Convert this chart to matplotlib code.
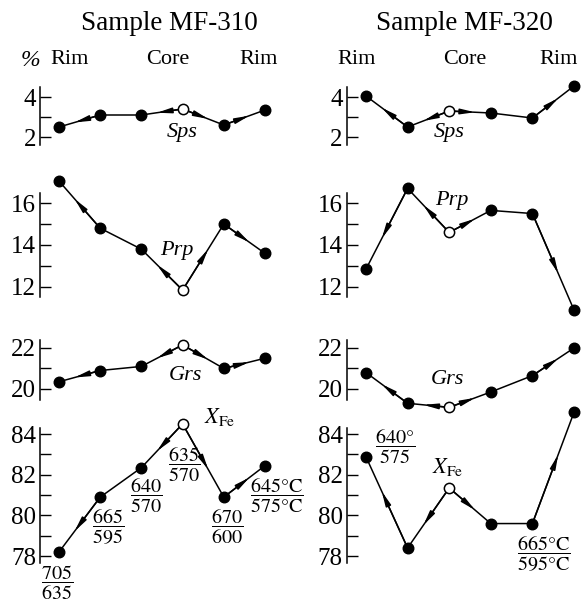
import matplotlib
matplotlib.use("Agg")
import matplotlib.pyplot as plt

plt.rcParams['font.family'] = ['Liberation Serif', 'DejaVu Serif']
plt.rcParams['mathtext.fontset'] = 'stix'

# profile positions rim -> core -> rim
pos = [0, 1, 2, 3, 4, 5]

# Sample MF-310 (core = index 3)
mf310_sps = [2.5, 3.1, 3.1, 3.4, 2.6, 3.35]
mf310_prp = [17.05, 14.8, 13.8, 11.85, 15.0, 13.6]
mf310_grs = [20.35, 20.9, 21.1, 22.15, 21.0, 21.5]
mf310_xfe = [78.2, 80.9, 82.35, 84.5, 80.9, 82.45]
mf310_core = 3
mf310_arrows = [(1, 0), (3, 2), (3, 4), (4, 5)]
mf310_temps = [r'$\dfrac{705}{635}$', r'$\dfrac{665}{595}$', r'$\dfrac{640}{570}$',
               r'$\dfrac{635}{570}$', r'$\dfrac{670}{600}$',
               r'$\dfrac{645\mathrm{°C}}{575\mathrm{°C}}$']
mf310_temp_off = [(-2, -31), (8, -30), (5, -28), (1, -41), (3, -30), (12, -30)]

# Sample MF-320 (core = index 2)
mf320_sps = [4.05, 2.5, 3.3, 3.2, 2.95, 4.55]
mf320_prp = [12.85, 16.7, 14.6, 15.65, 15.5, 10.9]
mf320_grs = [20.8, 19.3, 19.1, 19.85, 20.65, 22.0]
mf320_xfe = [82.88, 78.4, 81.35, 79.6, 79.6, 85.07]
mf320_core = 2
mf320_arrows = [(1, 0), (2, 1), (2, 3), (4, 5)]
mf320_temps = {0: r'$\dfrac{640\mathrm{°}}{575}$', 4: r'$\dfrac{665\mathrm{°C}}{595\mathrm{°C}}$'}
mf320_temp_off = {0: (29, 10), 4: (11, -31)}

# panel layout: name, top px, bottom px, ylim, major, minor, label pos (col0, col1)
panels = [
    ('Sps', 87, 145, (1.6, 4.5), [2, 4], [3], [(3.0, 2.2), (2.0, 2.2)]),
    ('Prp', 193, 297, (11.52, 16.48), [12, 14, 16], [13, 15], [(2.86, 13.76), (2.07, 16.14)]),
    ('Grs', 340, 400, (19.46, 22.39), [20, 22], [21], [(3.06, 20.68), (1.95, 20.44)]),
    ('XFe', 428, 563, (77.66, 84.3), [78, 80, 82, 84], [79, 81, 83], [None, None]),
]

W, H = 581, 602
fig = plt.figure(figsize=(W / 100, H / 100), dpi=100)

xlim = (-0.46, 5.3)
cols = [
    dict(x0=59, unit=41.2, data=[mf310_sps, mf310_prp, mf310_grs, mf310_xfe],
         core=mf310_core, arrows=mf310_arrows),
    dict(x0=366, unit=41.6, data=[mf320_sps, mf320_prp, mf320_grs, mf320_xfe],
         core=mf320_core, arrows=mf320_arrows),
]


def add_px_axes(left, top, width, height):
    return fig.add_axes([left / W, 1 - (top + height) / H, width / W, height / H])


axes = {}
for ci, col in enumerate(cols):
    left = col['x0'] + xlim[0] * col['unit']
    width = (xlim[1] - xlim[0]) * col['unit']
    for pi, (name, top, bot, ylim, major, minor, lab) in enumerate(panels):
        ax = add_px_axes(left, top, width, bot - top)
        ax.set_xlim(*xlim)
        ax.set_ylim(*ylim)
        for s in ['top', 'right', 'bottom']:
            ax.spines[s].set_visible(False)
        ax.spines['left'].set_linewidth(1.1)
        ax.set_xticks([])
        ax.set_yticks(major)
        ax.set_yticks(minor, minor=True)
        ax.tick_params(which='both', direction='in', length=8, width=1.0,
                       labelsize=18, pad=3)
        ax.patch.set_visible(False)

        vals = col['data'][pi]
        ax.plot(pos, vals, color='black', lw=1.1, clip_on=False, zorder=2)
        for a, b in col['arrows']:
            f = 0.62
            tip = (pos[a] + f * (pos[b] - pos[a]), vals[a] + f * (vals[b] - vals[a]))
            ax.annotate('', xy=tip, xytext=(pos[a], vals[a]),
                        arrowprops=dict(arrowstyle='-|>,head_length=0.85,head_width=0.16',
                                        color='black', lw=1.1, shrinkA=0, shrinkB=0,
                                        mutation_scale=10),
                        annotation_clip=False, zorder=2)
        filled = [i for i in range(len(pos)) if i != col['core']]
        ax.plot([pos[i] for i in filled], [vals[i] for i in filled], 'o',
                color='black', ms=7.6, clip_on=False, zorder=3)
        ax.plot([pos[col['core']]], [vals[col['core']]], 'o', mfc='white',
                mec='black', mew=1.1, ms=7.4, clip_on=False, zorder=4)
        if lab[ci] is not None:
            ax.text(lab[ci][0], lab[ci][1], name, style='italic', fontsize=16,
                    ha='center', va='center')
        axes[(ci, pi)] = ax

# XFe labels and temperatures
ax = axes[(0, 3)]
ax.annotate(r'$X_{\mathrm{Fe}}$', xy=(pos[3], mf310_xfe[3]), xytext=(37 * 0.72, 7 * 0.72),
            textcoords='offset points', ha='center', va='center', fontsize=16,
            annotation_clip=False)
for i, t in enumerate(mf310_temps):
    dx, dy = mf310_temp_off[i]
    ax.annotate(t, xy=(pos[i], mf310_xfe[i]), xytext=(dx * 0.72, dy * 0.72),
                textcoords='offset points', ha='center', va='center', fontsize=14.5,
                annotation_clip=False)

ax = axes[(1, 3)]
ax.annotate(r'$X_{\mathrm{Fe}}$', xy=(pos[2], mf320_xfe[2]), xytext=(-1 * 0.72, 21 * 0.72),
            textcoords='offset points', ha='center', va='center', fontsize=16,
            annotation_clip=False)
for i, t in mf320_temps.items():
    dx, dy = mf320_temp_off[i]
    ax.annotate(t, xy=(pos[i], mf320_xfe[i]), xytext=(dx * 0.72, dy * 0.72),
                textcoords='offset points', ha='center', va='center', fontsize=14.5,
                annotation_clip=False)


def ftext(x, y, s, **kw):
    fig.text(x / W, 1 - y / H, s, ha='center', va='center', **kw)


ftext(169, 23, 'Sample MF-310', fontsize=19.5)
ftext(464, 23, 'Sample MF-320', fontsize=19.5)
ftext(30, 61, '%', fontsize=17, style='italic')
for x, s in [(70, 'Rim'), (168, 'Core'), (259, 'Rim'), (357, 'Rim'), (465, 'Core'), (559, 'Rim')]:
    ftext(x, 60, s, fontsize=16)

fig.savefig('out.png', dpi=100)
